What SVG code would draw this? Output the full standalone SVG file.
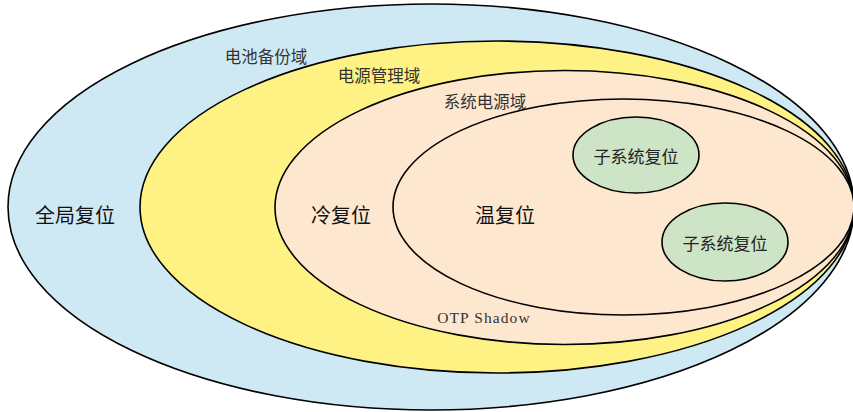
<svg xmlns="http://www.w3.org/2000/svg" width="853" height="412" viewBox="0 0 853 412">
<style>
.ring{stroke:#000;stroke-width:1.6}
.cjk{font-family:"Noto Sans CJK SC","Noto Sans",sans-serif;text-anchor:middle;dominant-baseline:central}
.big{font-size:20px;fill:#111}
.small{font-size:16.5px;fill:#333}
.sub{font-size:17px;fill:#222}
.mono{font-family:"Liberation Serif","DejaVu Serif",serif;font-size:15.5px;letter-spacing:1.1px;fill:#333;text-anchor:middle;dominant-baseline:central}
</style>
<rect width="853" height="412" fill="#fff"/>
<g id="global-reset">
<ellipse class="ring" cx="431" cy="207" rx="423" ry="203" fill="#cfe9f4"/>
<text class="cjk big" x="75" y="214">全局复位</text>
<text class="cjk small" x="266" y="56">电池备份域</text>
</g>
<g id="power-mgmt">
<ellipse class="ring" cx="497" cy="207" rx="357" ry="166" fill="#fdf283"/>
<text class="cjk small" x="379" y="75">电源管理域</text>
</g>
<g id="cold-reset">
<ellipse class="ring" cx="564.5" cy="207.5" rx="289.5" ry="137" fill="#fde7cf"/>
<text class="cjk big" x="341" y="214">冷复位</text>
<text class="cjk small" x="485" y="101">系统电源域</text>
<text class="mono" x="484" y="317">OTP Shadow</text>
</g>
<g id="warm-reset">
<ellipse class="ring" cx="623.5" cy="207" rx="230.5" ry="108" fill="#fde7cf"/>
<text class="cjk big" x="505" y="214">温复位</text>
</g>
<g id="subsystem-reset-1">
<ellipse class="ring" cx="636" cy="155" rx="63" ry="38" fill="#cde4c6"/>
<text class="cjk sub" x="636" y="155">子系统复位</text>
</g>
<g id="subsystem-reset-2">
<ellipse class="ring" cx="725" cy="242" rx="63" ry="39" fill="#cde4c6"/>
<text class="cjk sub" x="725" y="242">子系统复位</text>
</g>
<g id="connectors"/>
</svg>
